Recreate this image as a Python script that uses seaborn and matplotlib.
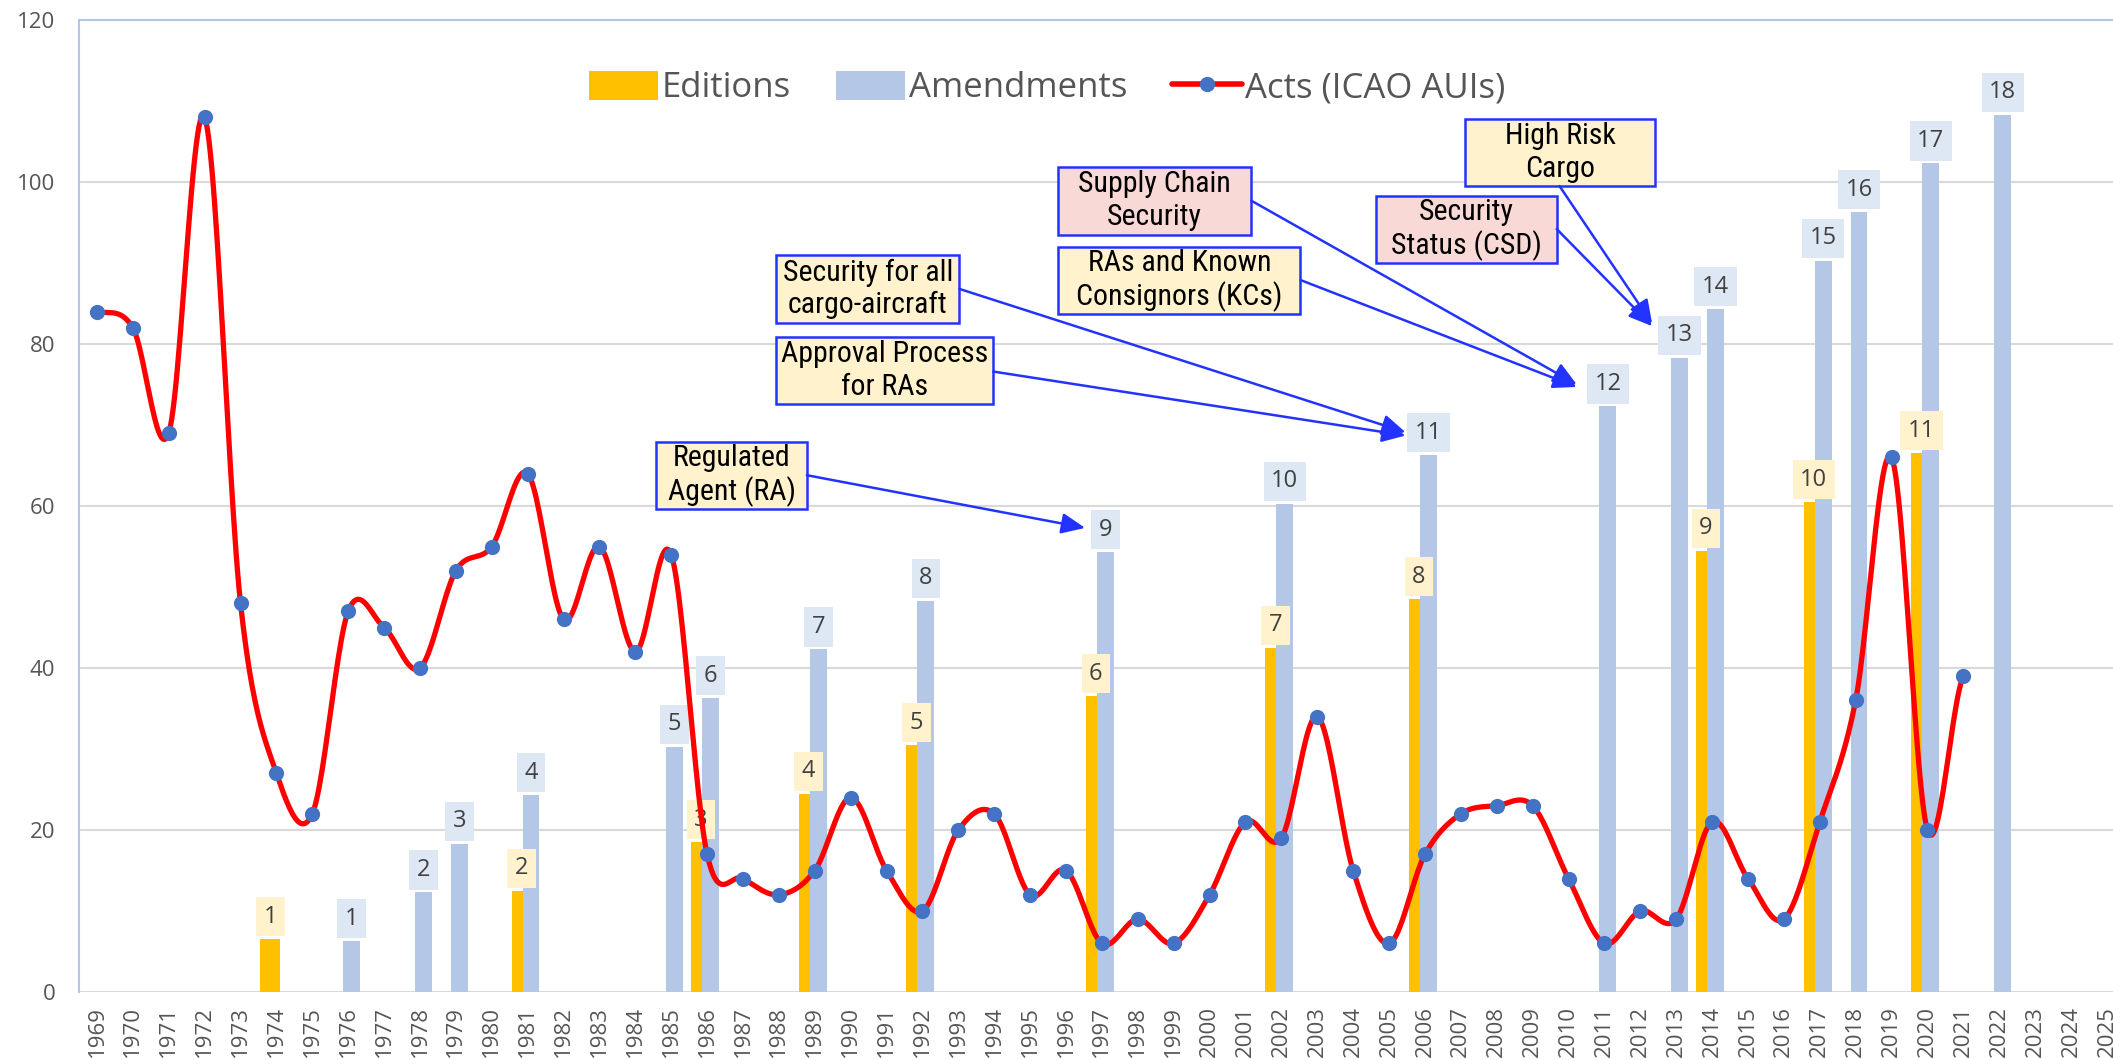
import numpy as np
import pandas as pd
import matplotlib
matplotlib.use("Agg")
import matplotlib.pyplot as plt
from matplotlib import font_manager
from matplotlib.patches import Patch, Rectangle
from matplotlib.lines import Line2D
import seaborn as sns

# categories
years = list(range(1969, 2026))

# Acts (ICAO AUIs) per year, 1969-2021
acts_years = list(range(1969, 2022))
acts = [84, 82, 69, 108, 48, 27, 22, 47, 45, 40, 52, 55, 64, 46, 55, 42, 54,
        17, 14, 12, 15, 24, 15, 10, 20, 22, 12, 15, 6, 9, 6, 12, 21, 19, 34,
        15, 6, 17, 22, 23, 23, 14, 6, 10, 9, 21, 14, 9, 21, 36, 66, 20, 39]

# Editions (bar heights as drawn, with their edition number)
ed_years = [1974, 1981, 1986, 1989, 1992, 1997, 2002, 2006, 2014, 2017, 2020]
ed_heights = [6.5, 12.5, 18.5, 24.5, 30.5, 36.5, 42.5, 48.5, 54.5, 60.5, 66.5]
ed_labels = ["1", "2", "3", "4", "5", "6", "7", "8", "9", "10", "11"]

# Amendments (bar heights as drawn, with their amendment number)
am_years = [1976, 1978, 1979, 1981, 1985, 1986, 1989, 1992, 1997, 2002, 2006,
            2011, 2013, 2014, 2017, 2018, 2020, 2022]
am_heights = [6.3, 12.3, 18.3, 24.3, 30.3, 36.3, 42.3, 48.3, 54.3, 60.3, 66.3,
              72.3, 78.3, 84.3, 90.3, 96.3, 102.3, 108.3]
am_labels = ["1", "2", "3", "4", "5", "6", "7", "8", "9", "10", "11", "12",
             "13", "14", "15", "16", "17", "18"]

# call-out boxes
notes = ["Regulated\nAgent (RA)", "Approval Process\nfor RAs",
         "Security for all\ncargo-aircraft", "Supply Chain\nSecurity",
         "RAs and Known\nConsignors (KCs)", "Security\nStatus (CSD)",
         "High Risk\nCargo"]

ORANGE = "#FFC000"
BLUE = "#B4C7E7"
RED = "#FF0000"
DOT = "#4472C4"
GREY = "#555555"
ARROW = "#2233FF"
YELLOW_BG = "#FFF2CC"
PINK_BG = "#F9D9D6"

sns.set_theme(style="white")
plt.rcParams["font.family"] = ["Open Sans", "DejaVu Sans"]

# narrow font for the call-outs if one is around
installed = {f.name for f in font_manager.fontManager.ttflist}
note_font, note_size = "Liberation Sans", 19
for cand, size in [("Liberation Sans Narrow", 22.5), ("Roboto Condensed", 21.5),
                   ("Open Sans Condensed", 21.5), ("DejaVu Sans Condensed", 19)]:
    if cand in installed:
        note_font, note_size = cand, size
        break

fig = plt.figure(figsize=(21.13, 10.60), dpi=100)
ax = fig.add_axes([79 / 2113, 68 / 1060, 1 - 79 / 2113, 972 / 1060])

df = pd.concat([
    pd.DataFrame({"year": ed_years, "value": ed_heights, "series": "Editions"}),
    pd.DataFrame({"year": am_years, "value": am_heights, "series": "Amendments"}),
])
sns.barplot(data=df, x="year", y="value", hue="series", order=years,
            hue_order=["Editions", "Amendments"],
            palette=[ORANGE, BLUE], errorbar=None, width=0.8,
            saturation=1, legend=False, ax=ax)

# excel-like overlapping clusters: amendments drawn over the editions
ed_off, ed_w = -0.17, 0.55
am_off, am_w = 0.095, 0.47
for cont, off, w in zip(ax.containers, [ed_off, am_off], [ed_w, am_w]):
    for bar in cont:
        c = round(bar.get_x() + bar.get_width() / 2)
        bar.set_x(c + off - w / 2)
        bar.set_width(w)
        bar.set_linewidth(0)

# number labels above bars
def bar_labels(yrs, hts, labs, off, bg):
    for yr, h, s in zip(yrs, hts, labs):
        ax.annotate(s, (years.index(yr) + off, h), xytext=(0, 7.5),
                    textcoords="offset points", ha="center", va="bottom",
                    fontsize=17, color="#404040", zorder=3,
                    bbox=dict(boxstyle="square,pad=0.32", fc=bg, ec="none"))

bar_labels(ed_years, ed_heights, ed_labels, ed_off, YELLOW_BG)
bar_labels(am_years, am_heights, am_labels, am_off, "#DEE8F5")

# smoothed acts line (excel style cubic smoothing through the points)
pos = np.array([years.index(y) for y in acts_years], float)
yv = np.array(acts, float)
pad = np.concatenate([[yv[0]], yv, [yv[-1]]])
tang = (pad[2:] - pad[:-2]) / 2
t = np.linspace(0, 1, 25, endpoint=False)
h00 = 2 * t**3 - 3 * t**2 + 1
h10 = t**3 - 2 * t**2 + t
h01 = -2 * t**3 + 3 * t**2
h11 = t**3 - t**2
xs, ys = [], []
for i in range(len(yv) - 1):
    xs.append(pos[i] + t)
    ys.append(h00 * yv[i] + h10 * tang[i] + h01 * yv[i + 1] + h11 * tang[i + 1])
xs = np.concatenate(xs + [[pos[-1]]])
ys = np.concatenate(ys + [[yv[-1]]])
sns.lineplot(x=xs, y=ys, sort=False, estimator=None, color=RED,
             linewidth=3.8, zorder=4, ax=ax)
sns.scatterplot(x=pos, y=yv, s=120, color=DOT, edgecolor=DOT, linewidth=0,
                zorder=5, ax=ax)

# call-out boxes: (x0, x1, y0, y1), fill, arrow start, arrow tip
boxes = [(15.58, 19.78, 59.6, 67.9), (18.92, 24.97, 72.6, 80.9),
         (18.92, 24.03, 82.6, 91.0), (26.78, 32.16, 93.5, 101.9),
         (26.78, 33.53, 83.7, 92.0), (35.64, 40.67, 90.0, 98.3),
         (38.12, 43.41, 99.5, 107.8)]
fills = [YELLOW_BG, YELLOW_BG, YELLOW_BG, PINK_BG, YELLOW_BG, PINK_BG, YELLOW_BG]
starts = [(19.78, 63.8), (24.97, 76.6), (24.03, 86.8), (32.16, 97.7),
          (33.53, 87.9), (40.67, 94.2), (40.75, 99.5)]
tips = [(27.53, 57.3), (36.46, 68.7), (36.46, 69.1), (41.23, 75.0),
        (41.23, 74.7), (43.33, 82.2), (43.33, 82.5)]

for txt, (x0, x1, y0, y1), fc, st, tp in zip(notes, boxes, fills, starts, tips):
    ax.add_patch(Rectangle((x0, y0), x1 - x0, y1 - y0, fc=fc, ec=ARROW,
                           lw=1.8, zorder=6))
    ax.text((x0 + x1) / 2, (y0 + y1) / 2, txt, ha="center", va="center",
            fontsize=note_size, linespacing=1.2, color="black", zorder=7,
            family=[note_font, "DejaVu Sans"])
    ax.annotate("", xy=tp, xytext=st, zorder=6,
                arrowprops=dict(arrowstyle="-|>,head_length=0.8,head_width=0.35",
                                color=ARROW, lw=1.8, mutation_scale=18,
                                shrinkA=0, shrinkB=0))

# axes styling
ax.set_xlim(-0.5, 56.17)
ax.set_ylim(0, 120)
ax.set_yticks(range(0, 121, 20))
ax.set_xticks(range(len(years)))
ax.set_xticklabels([str(y) for y in years], rotation=90)
ax.set_xlabel("")
ax.set_ylabel("")
ax.tick_params(axis="x", length=0, pad=10, labelsize=16, labelcolor=GREY)
ax.tick_params(axis="y", length=0, pad=17, labelsize=16, labelcolor=GREY)
ax.yaxis.grid(True, color="#D9D9D9", lw=1.5)
ax.xaxis.grid(False)
ax.set_axisbelow(True)
for side in ["left", "top"]:
    ax.spines[side].set_color("#B4C7E7")
    ax.spines[side].set_linewidth(1.5)
ax.spines["right"].set_visible(False)
ax.spines["bottom"].set_visible(False)

handles = [Patch(fc=ORANGE, ec="none"), Patch(fc=BLUE, ec="none"),
           Line2D([], [], color=RED, lw=4, marker="o", markersize=10,
                  markerfacecolor=DOT, markeredgecolor=DOT)]
ax.legend(handles, ["Editions", "Amendments", "Acts (ICAO AUIs)"],
          loc="center", bbox_to_anchor=(0.476, 0.93), ncol=3, frameon=False,
          fontsize=25, handlelength=2.0, handleheight=0.9, handletextpad=0.1,
          columnspacing=1.3, labelcolor=GREY)

fig.savefig("out.png", dpi=100)
